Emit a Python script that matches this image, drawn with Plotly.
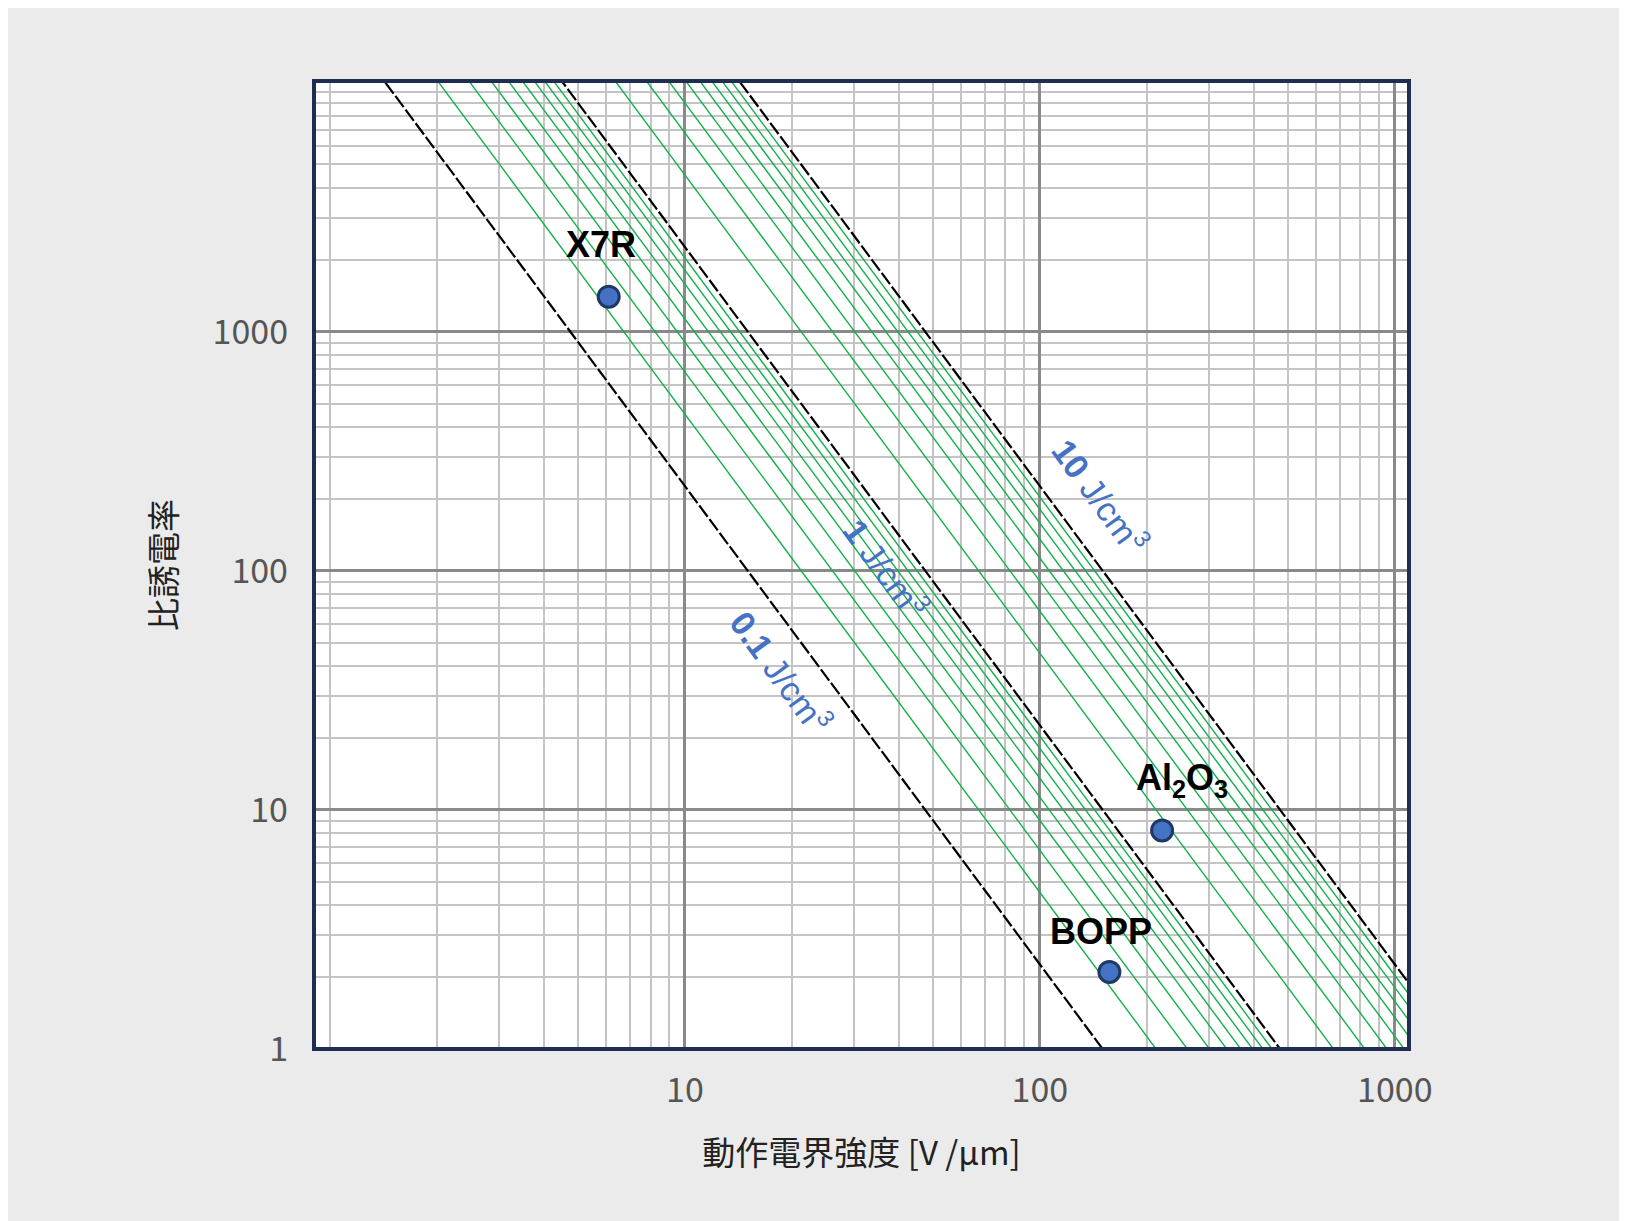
import plotly.graph_objects as go
import numpy as np

# energy density levels [J/cm3]
main_levels = [0.1, 1, 10]
green_levels = [0.2, 0.3, 0.4, 0.5, 0.6, 0.7, 0.8, 0.9, 2, 3, 4, 5, 6, 7, 8, 9]
level_labels = ["0.1 J/cm<sup>3</sup>", "1 J/cm<sup>3</sup>", "10 J/cm<sup>3</sup>"]
label_x = [18.8, 37, 149]
label_y = [38, 103, 207]

# materials
mat_names = ["X7R", "Al<sub>2</sub>O<sub>3</sub>", "BOPP"]
mat_field = [6.1, 221, 157]
mat_eps = [1400, 8.2, 2.1]
mat_lab_x = [5.8, 252, 149]
mat_lab_y = [2310, 13.3, 3.1]

K = 0.5 * 8.854e-12 * 1e12 / 1e6  # U[J/cm3] = K * eps_r * E[V/um]^2
E_ends = np.array([0.5, 2000.0])

fig = go.Figure()
for u in green_levels:
    fig.add_trace(go.Scatter(x=E_ends, y=u / (K * E_ends ** 2), mode="lines",
                             line=dict(color="#12b04a", width=1.4), hoverinfo="skip"))
for u in main_levels:
    fig.add_trace(go.Scatter(x=E_ends, y=u / (K * E_ends ** 2), mode="lines",
                             line=dict(color="black", width=2.2, dash="14px,3px"), hoverinfo="skip"))
fig.add_trace(go.Scatter(x=mat_field, y=mat_eps, mode="markers",
                         marker=dict(size=21, color="#4472c4", line=dict(color="#1f3864", width=3))))

for t, x, y in zip(level_labels, label_x, label_y):
    fig.add_annotation(x=np.log10(x), y=np.log10(y), text="<b>" + t.split(" ")[0] + "</b> " + t.split(" ", 1)[1],
                       showarrow=False, textangle=53.7,
                       font=dict(size=34, color="#4472c4", family="Liberation Sans"))
for t, x, y in zip(mat_names, mat_lab_x, mat_lab_y):
    fig.add_annotation(x=np.log10(x), y=np.log10(y), text="<b>" + t + "</b>", showarrow=False,
                       font=dict(size=36, color="black", family="Liberation Sans"))

fig.update_xaxes(type="log", range=[-0.045, 3.04], tickvals=[10, 100, 1000], ticktext=["10", "100", "1000"],
                 showgrid=True, gridcolor="#8a8a8a", gridwidth=3,
                 minor=dict(showgrid=True, gridcolor="#c4c4c4", gridwidth=1.5, dtick="D1"),
                 showline=False, zeroline=False, ticks="", ticklabelstandoff=18,
                 title=dict(text="動作電界強度 [V /µm]", font=dict(size=33, color="#222"), standoff=30),
                 tickfont=dict(size=34, color="#555"))
fig.update_yaxes(type="log", range=[0, 4.048], tickvals=[1, 10, 100, 1000], ticktext=["1", "10", "100", "1000"],
                 showgrid=True, gridcolor="#8a8a8a", gridwidth=3,
                 minor=dict(showgrid=True, gridcolor="#c4c4c4", gridwidth=1.5, dtick="D1"),
                 showline=False, zeroline=False, ticks="", ticklabelstandoff=25,
                 title=dict(text="比誘電率", font=dict(size=33, color="#222"), standoff=25),
                 tickfont=dict(size=34, color="#555"))
fig.add_shape(type="rect", xref="paper", yref="paper", x0=0, y0=0, x1=1, y1=1,
              line=dict(color="#1f2d50", width=4))
fig.update_layout(width=1627, height=1221, showlegend=False,
                  paper_bgcolor="#ebebeb", plot_bgcolor="white",
                  margin=dict(l=306, r=226, t=73, b=180),
                  font=dict(family="Noto Sans CJK JP"))
fig.write_html("out.html")
